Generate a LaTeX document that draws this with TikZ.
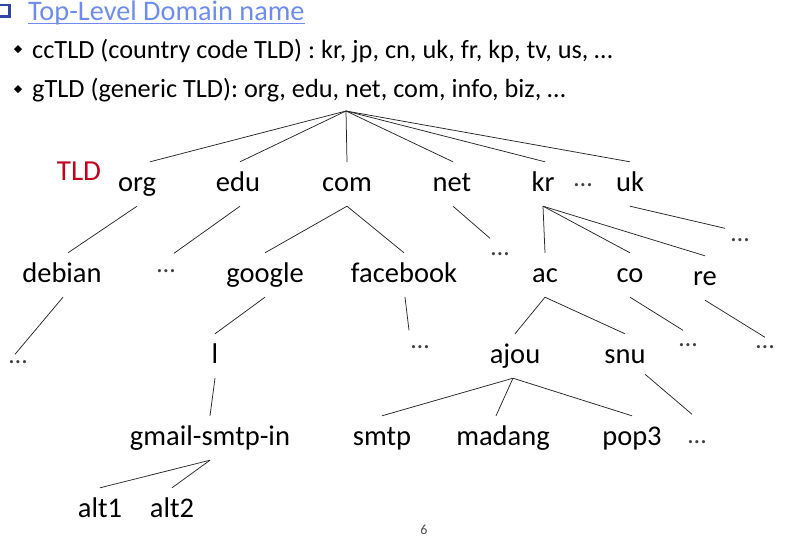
\documentclass[tikz,border=0pt]{standalone}
\usepackage{fontspec}
\setmainfont{Carlito}
\definecolor{titleblue}{RGB}{110,140,240}
\definecolor{bulletblue}{RGB}{50,70,170}
\definecolor{tldred}{RGB}{192,0,32}
\begin{document}
\begin{tikzpicture}[x=1pt,y=-1pt,
  tn/.style={font=\fontsize{28.5}{32}\selectfont, text height=20pt, text depth=6pt, inner ysep=9pt, inner xsep=2pt},
  dt/.style={font=\fontsize{26}{30}\selectfont, text=black!75, text height=3pt, text depth=0pt, inner sep=0pt},
  hd/.style={font=\fontsize{26.3}{30}\selectfont, anchor=base west, inner sep=0pt},
  br/.style={draw=black!85, line width=0.75pt}]
\useasboundingbox (0,0) rectangle (795,538);
% header
\fill[bulletblue] (0,4) rectangle (11,18);
\fill[white] (0,6) rectangle (7.5,14.5);
\node[font=\fontsize{28.3}{32}\selectfont, anchor=base west, inner sep=0pt, text=titleblue] (title) at (28,20.5) {Top-Level Domain name};
\draw[titleblue, line width=1pt] ([yshift=-3pt]title.base west) -- ([yshift=-3pt]title.base east);
\fill (18,45) -- (22,49) -- (18,53) -- (14,49) -- cycle;
\fill (18,85) -- (22,89) -- (18,93) -- (14,89) -- cycle;
\node[hd] (cc) at (32,58) {ccTLD (country code TLD) : kr, jp, cn, uk, fr, kp, tv, us, …};
\node[hd] (g) at (32,97) {gTLD (generic TLD): org, edu, net, com, info, biz, …};
% tree
\coordinate (root) at (346,111);
\node[font=\fontsize{29}{32}\selectfont, text=tldred, inner sep=0pt] (tld) at (79,171) {TLD};
\node[tn] (org) at (137,184) {org};
\node[tn] (edu) at (238,184) {edu};
\node[tn] (com) at (347,184) {com};
\node[tn] (net) at (452,184) {net};
\node[tn] (kr) at (543,184) {kr};
\node[dt] (kdots) at (583,185) {…};
\node[tn] (uk) at (630,184) {uk};

\node[tn] (debian) at (62,275) {debian};
\node[dt] (d1) at (166,271) {…};
\node[tn] (google) at (265,275) {google};
\node[tn] (facebook) at (404,275) {facebook};
\node[dt] (d2) at (500,254) {…};
\node[tn] (ac) at (545,275) {ac};
\node[tn] (co) at (630,275) {co};
\node[tn] (re) at (705,278) {re};
\node[dt] (d3) at (740,240) {…};

\node[dt] (d4) at (18,362) {…};
\node[tn] (l) at (215,356) {l};
\node[dt] (d5) at (420,347) {…};
\node[tn] (ajou) at (515,356) {ajou};
\node[tn] (snu) at (625,356) {snu};
\node[dt] (d6) at (688,345) {…};
\node[dt] (d7) at (765,347) {…};

\node[tn] (gmail) at (210,438) {gmail-smtp-in};
\node[tn] (smtp) at (382,438) {smtp};
\node[tn] (madang) at (503,438) {madang};
\node[tn] (pop3) at (632,438) {pop3};
\node[dt] (d8) at (697,442) {…};

\node[tn] (alt1) at (100,510) {alt1};
\node[tn] (alt2) at (172,510) {alt2};

\node[font=\fontsize{14}{16}\selectfont, text=black!70, inner sep=0pt] (page) at (424,530) {6};

% connectors
\draw[br] (root) -- ([xshift=13pt]org.north);
\draw[br] (root) -- ([xshift=2pt]edu.north);
\draw[br] (root) -- (com.north);
\draw[br] (root) -- ([xshift=1pt]net.north);
\draw[br] (root) -- ([xshift=2pt]kr.north);
\draw[br] (root) -- (uk.north);

\draw[br] (org.south) -- ([xshift=6pt]debian.north);
\draw[br] ([xshift=2pt]edu.south) -- ([shift={(8,-16)}]d1.north);
\draw[br] (com.south) -- (google.north);
\draw[br] (com.south) -- (facebook.north);
\draw[br] ([xshift=1pt]net.south) -- ([shift={(-10,-14)}]d2.north);
\draw[br] (kr.south) -- (ac.north);
\draw[br] (kr.south) -- (co.north);
\draw[br] (kr.south) -- (re.north);
\draw[br] (uk.south) -- ([shift={(-15,-10)}]d3.north);

\draw[br] ([xshift=1pt]debian.south) -- ([shift={(-3,-6)}]d4.north);
\draw[br] (google.south) -- (l.north);
\draw[br] ([xshift=1pt]facebook.south) -- ([shift={(-11,-15)}]d5.north);
\draw[br] (ac.south) -- (ajou.north);
\draw[br] (ac.south) -- (snu.north);
\draw[br] (co.south) -- ([shift={(-5,-13)}]d6.north);
\draw[br] (re.south) -- ([shift={(0,-8)}]d7.north);

\draw[br] (l.south) -- (gmail.north);
\draw[br] ([xshift=-2pt]ajou.south) -- (smtp.north);
\draw[br] ([xshift=-2pt]ajou.south) -- ([xshift=-7pt]madang.north);
\draw[br] ([xshift=-2pt]ajou.south) -- (pop3.north);
\draw[br] ([shift={(20,-4)}]snu.south) -- ([shift={(-5,-26)}]d8.north);

\draw[br] (gmail.south) -- (alt1.north);
\draw[br] (gmail.south) -- (alt2.north);
\end{tikzpicture}
\end{document}
